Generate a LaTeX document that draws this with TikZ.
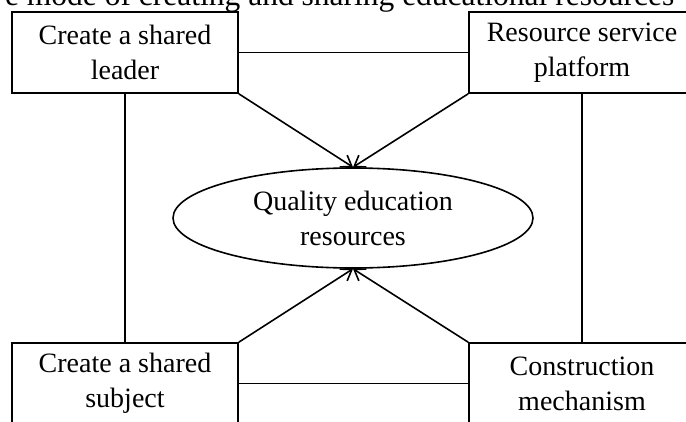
\documentclass[tikz,border=0pt]{standalone}
\usepackage{fontspec}
\setmainfont{Liberation Serif}
\usetikzlibrary{arrows.meta,shapes.geometric}
\tikzstyle{block}=[draw,line width=1.6pt,minimum width=226pt,minimum height=81pt,align=center,inner sep=0pt,font=\fontsize{28}{35}\selectfont]
\tikzstyle{core}=[draw,ellipse,line width=1.6pt,minimum width=360pt,minimum height=100pt,align=center,inner sep=0pt,font=\fontsize{28}{35}\selectfont]

\begin{document}
\begin{tikzpicture}[x=1pt,y=-1pt,line width=1.6pt,>={Straight Barb[length=10pt,width=14pt]}]
\clip (0,0) rectangle (686,421);
\fill[white] (0,0) rectangle (686,421);
\node[anchor=base east,inner sep=0pt,font=\fontsize{31.5}{35}\selectfont] at (675, 5) (title) {e mode of creating and sharing educational resources};
\node[block] at (125, 52.5) (leader) {Create a shared\\leader};
\node[block] at (582, 52.5) (platform) {Resource service\\platform};
\node[block] at (125, 383.5) (subject) {Create a shared\\subject};
\node[block] at (582, 383.5) (mech) {Construction\\mechanism};
\node[core] at (353, 218) (quality) {Quality education\\resources};
\draw (leader) -- (platform);
\draw (subject) -- (mech);
\draw (leader) -- (subject);
\draw (platform) -- (mech);
\draw[->] (leader.south east) -- (quality.north);
\draw[->] (platform.south west) -- (quality.north);
\draw[->] (subject.north east) -- (quality.south);
\draw[->] (mech.north west) -- (quality.south);
\end{tikzpicture}
\end{document}
